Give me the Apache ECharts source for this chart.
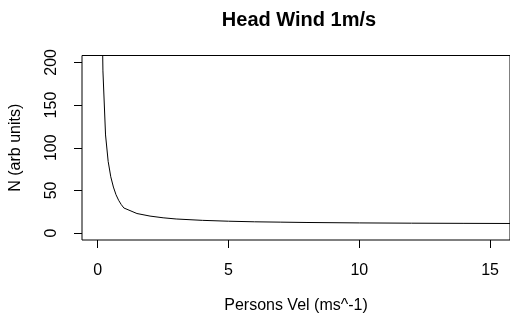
<!DOCTYPE html>
<html><head><meta charset="utf-8">
<script src="https://cdn.jsdelivr.net/npm/echarts@6/dist/echarts.min.js"></script>
<style>html,body{margin:0;padding:0;background:#fff}#c{width:510px;height:322px}</style>
</head><body><div id="c"></div>
<script>
var velocities = [0.1, 0.2, 0.3, 0.4, 0.5, 0.6, 0.7, 0.8, 0.9, 1.0, 1.5, 2, 2.5, 3, 4, 5, 6, 7, 8, 10, 12, 14, 16];
var counts = [400, 190, 115, 84, 66, 54, 45, 38.5, 33.5, 29.5, 23, 20, 18, 16.6, 15, 14, 13.3, 12.9, 12.5, 12, 11.7, 11.5, 11.3];
var xTicks = [0, 5, 10, 15];
var yTicks = [0, 50, 100, 150, 200];
var titleText = 'Head Wind 1m/s';
var xName = 'Persons Vel (ms^-1)';
var yName = 'N (arb units)';

var font = 'Liberation Sans, Arial, sans-serif';
var data = velocities.map(function (v, i) { return [v, counts[i]]; });
var chart = echarts.init(document.getElementById('c'));
chart.setOption({
  animation: false,
  title: {
    text: titleText, left: 294, top: 5, textAlign: 'center',
    textStyle: { fontFamily: font, fontWeight: 'bold', fontSize: 20, color: '#000' }
  },
  grid: { left: 79, top: 55.5, width: 436, height: 184.5, show: true, borderColor: '#000', borderWidth: 1, backgroundColor: 'transparent' },
  xAxis: {
    type: 'value', min: -0.6, max: 15.76,
    name: xName, nameLocation: 'middle', nameGap: 58,
    nameTextStyle: { fontFamily: font, fontSize: 16, color: '#000' },
    axisLine: { show: false, onZero: false },
    axisTick: { show: true, length: 8, customValues: xTicks, lineStyle: { color: '#000' } },
    axisLabel: { customValues: xTicks, margin: 23, fontFamily: font, fontSize: 16, color: '#000' },
    splitLine: { show: false }
  },
  yAxis: {
    type: 'value', min: -8, max: 208,
    name: yName, nameLocation: 'middle', nameGap: 58,
    nameTextStyle: { fontFamily: font, fontSize: 16, color: '#000' },
    axisLine: { show: false, onZero: false },
    axisTick: { show: true, length: 8, customValues: yTicks, lineStyle: { color: '#000' } },
    axisLabel: { customValues: yTicks, rotate: 90, margin: 22, fontFamily: font, fontSize: 16, color: '#000' },
    splitLine: { show: false }
  },
  series: [{
    type: 'line', data: data, showSymbol: false, symbol: 'none', clip: true,
    lineStyle: { color: '#000', width: 1 }
  }]
});
</script></body></html>
